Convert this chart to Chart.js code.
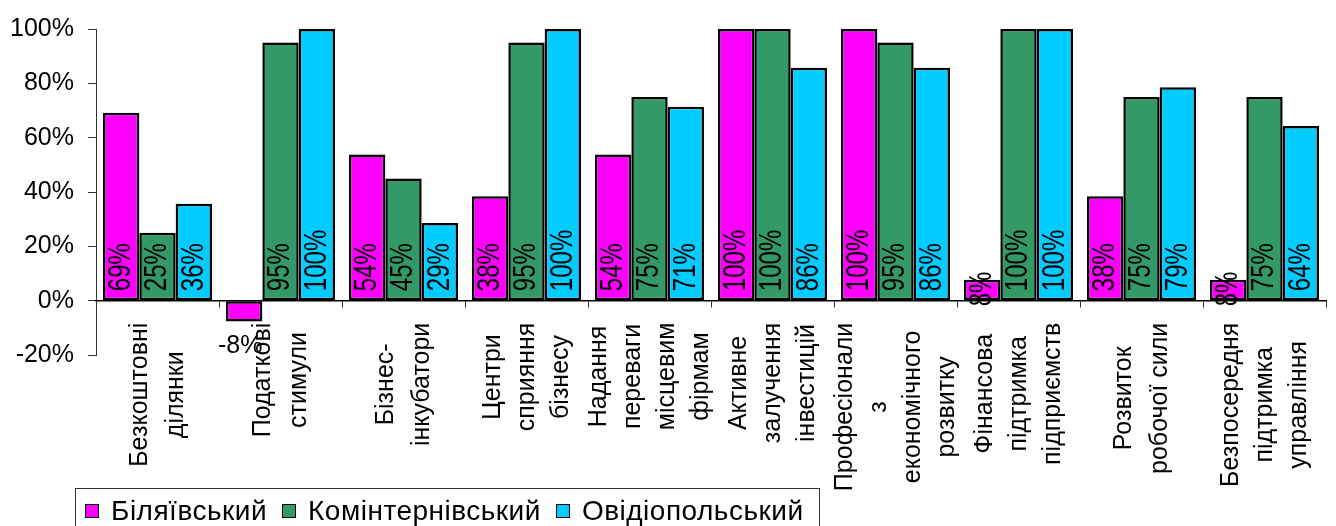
<!DOCTYPE html>
<html>
<head>
<meta charset="utf-8">
<script src="https://cdn.jsdelivr.net/npm/chart.js@4.4.1/dist/chart.umd.min.js"></script>
<style>
    body { margin: 0; background: #fff; }
    #wrap { position: relative; width: 1336px; height: 526px; overflow: hidden; }
    #legend {
        position: absolute; left: 75px; top: 488px; height: 44px;
        border: 1px solid #333; padding-left: 9px; box-sizing: border-box;
        display: flex; align-items: flex-start; padding-top: 7px;
        font: 28px "Liberation Sans", Arial, sans-serif; letter-spacing: 0.5px;
        color: #000; white-space: nowrap;
    }
    #legend .item { display: flex; align-items: center; margin-right: 15px; line-height: 30px; }
    #legend .box { width: 12px; height: 12px; border: 1.5px solid #000; margin-right: 12px; }
</style>
</head>
<body>
<div id="wrap">
    <canvas id="chart" width="1336" height="526"></canvas>
    <div id="legend"></div>
</div>
<script>
// категорії (рядки підписів осі X)
const categories = [
    ['Безкоштовні', 'ділянки'],
    ['Податкові', 'стимули'],
    ['Бізнес-', 'інкубатори'],
    ['Центри', 'сприяння', 'бізнесу'],
    ['Надання', 'переваги', 'місцевим', 'фірмам'],
    ['Активне', 'залучення', 'інвестицій'],
    ['Професіонали', 'з', 'економічного', 'розвитку'],
    ['Фінансова', 'підтримка', 'підприємств'],
    ['Розвиток', 'робочої сили'],
    ['Безпосередня', 'підтримка', 'управління']
];
const seriesNames = ['Біляївський', 'Комінтернівський', 'Овідіопольський'];
const biliaivka = [69.2, -7.7, 53.8, 38.4, 53.8, 100, 100, 7.7, 38.4, 7.7];
const kominternivske = [25, 95, 45, 95, 75, 100, 95, 100, 75, 75];
const ovidiopol = [35.7, 100, 28.6, 100, 71.4, 85.7, 85.7, 100, 78.6, 64.3];
const yTicks = [-20, 0, 20, 40, 60, 80, 100];
const colors = ['#FF00FF', '#339966', '#00CCFF'];

const FONT = '"Liberation Sans", Arial, sans-serif';

// підписи значень всередині стовпців + підписи категорій
const labelsPlugin = {
    id: 'labelsPlugin',
    afterDatasetsDraw(chart) {
        const ctx = chart.ctx;
        ctx.save();
        ctx.fillStyle = '#000';
        chart.data.datasets.forEach((ds, d) => {
            const meta = chart.getDatasetMeta(d);
            meta.data.forEach((bar, i) => {
                const v = ds.data[i];
                const txt = Math.round(v) + '%';
                if (v < 0) {
                    ctx.font = '25px ' + FONT;
                    ctx.textAlign = 'center';
                    ctx.textBaseline = 'middle';
                    ctx.fillText(txt, bar.x - 4, bar.y + 25);
                    return;
                }
                ctx.font = '24px ' + FONT;
                const len = ctx.measureText(txt).width;
                const barLen = bar.base - bar.y;
                ctx.save();
                if (len + 14 > barLen) {
                    ctx.translate(bar.x - 1, (bar.y + bar.base) / 2 + len / 2 - 1);
                } else {
                    ctx.translate(bar.x - 1, bar.base - 9);
                }
                ctx.rotate(-Math.PI / 2);
                ctx.scale(1, 1.3);
                ctx.textAlign = 'left';
                ctx.textBaseline = 'middle';
                ctx.fillText(txt, 0, 1);
                ctx.restore();
            });
        });

        const xs = chart.scales.x;
        const y0 = chart.scales.y.getPixelForValue(0);
        ctx.font = '25px ' + FONT;
        categories.forEach((lines, i) => {
            const cx = xs.getPixelForValue(i);
            const maxLen = Math.max(...lines.map(l => ctx.measureText(l).width));
            const cy = y0 + 22 + maxLen / 2;
            const pitch = lines.length == 2 ? 36 : 34;
            lines.forEach((line, j) => {
                ctx.save();
                ctx.translate(cx + (j - (lines.length - 1) / 2) * pitch, cy);
                ctx.rotate(-Math.PI / 2);
                ctx.textAlign = 'center';
                ctx.textBaseline = 'middle';
                ctx.fillText(line, 0, 1);
                ctx.restore();
            });
        });
        ctx.restore();
    }
};

const chart = new Chart(document.getElementById('chart'), {
    type: 'bar',
    data: {
        labels: categories.map(c => c.join(' ')),
        datasets: [biliaivka, kominternivske, ovidiopol].map((vals, k) => ({
            label: seriesNames[k],
            data: vals,
            backgroundColor: colors[k],
            borderColor: '#000',
            borderWidth: 2.5,
            borderSkipped: false,
            barPercentage: 1,
            categoryPercentage: 0.886
        }))
    },
    options: {
        responsive: false,
        animation: false,
        layout: { padding: { left: 0, top: 25, right: 10, bottom: 171 } },
        plugins: { legend: { display: false }, tooltip: { enabled: false } },
        scales: {
            x: {
                position: { y: 0 },
                grid: { drawOnChartArea: false, drawTicks: true, tickLength: 6, offset: true, color: '#333' },
                border: { display: true, color: '#000', width: 1.5 },
                ticks: { display: false }
            },
            y: {
                min: -20,
                max: 100,
                afterFit(scale) { scale.width = 96; },
                afterBuildTicks(scale) { scale.ticks = yTicks.map(v => ({ value: v })); },
                grid: { drawOnChartArea: false, drawTicks: true, tickLength: 8, color: '#333' },
                border: { display: true, color: '#333', width: 1 },
                ticks: {
                    color: '#000',
                    padding: 14,
                    font: { family: FONT, size: 25 },
                    callback: v => v + '%'
                }
            }
        }
    },
    plugins: [labelsPlugin]
});

// легенда
const legendEl = document.getElementById('legend');
legendEl.innerHTML = seriesNames.map((n, k) =>
    `<span class="item"><span class="box" style="background:${colors[k]}"></span>${n}</span>`
).join('');
</script>
</body>
</html>
